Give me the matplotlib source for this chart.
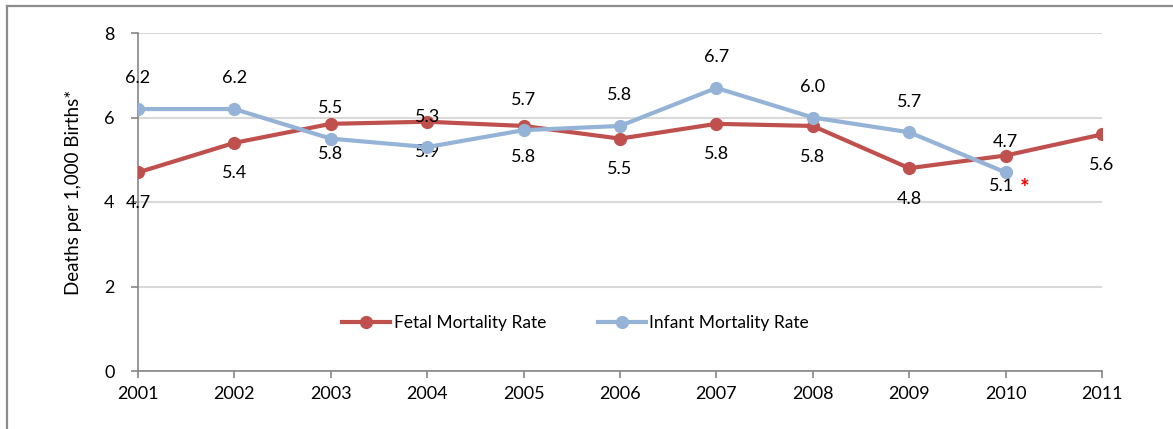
import matplotlib.pyplot as plt
from matplotlib.lines import Line2D

# data
years = [2001, 2002, 2003, 2004, 2005, 2006, 2007, 2008, 2009, 2010, 2011]
fetal = [4.7, 5.4, 5.85, 5.9, 5.8, 5.5, 5.85, 5.8, 4.8, 5.1, 5.6]
fetal_labels = ["4.7", "5.4", "5.8", "5.9", "5.8", "5.5", "5.8", "5.8", "4.8", "5.1", "5.6"]
infant_years = [2001, 2002, 2003, 2004, 2005, 2006, 2007, 2008, 2009, 2010]
infant = [6.2, 6.2, 5.5, 5.3, 5.7, 5.8, 6.7, 6.0, 5.65, 4.7]
infant_labels = ["6.2", "6.2", "5.5", "5.3", "5.7", "5.8", "6.7", "6.0", "5.7", "4.7"]

plt.rcParams["font.family"] = ["Lato", "DejaVu Sans"]
fs = 13

fig = plt.figure(figsize=(11.73, 4.29), dpi=100)
ax = fig.add_axes([138 / 1173, 1 - 371 / 429, 964 / 1173, 338 / 429])

red = "#C0504D"
blue = "#95B3D7"

ax.plot(years, fetal, color=red, lw=3, marker="o", ms=8.5, label="Fetal Mortality Rate", zorder=3)
ax.plot(infant_years, infant, color=blue, lw=3, marker="o", ms=8.5, label="Infant Mortality Rate", zorder=4)

for x, y, s in zip(infant_years, infant, infant_labels):
    ax.annotate(s, (x, y), xytext=(0, 22), textcoords="offset points",
                ha="center", va="center", fontsize=fs)
for x, y, s in zip(years, fetal, fetal_labels):
    ax.annotate(s, (x, y), xytext=(-3 if x == 2010 else 0, -22), textcoords="offset points",
                ha="center", va="center", fontsize=fs)
# asterisk on the 2010 fetal value
ax.annotate("*", (2010, fetal[9]), xytext=(10, -24), textcoords="offset points",
            ha="left", va="center", fontsize=16, color="red", fontweight="bold")

ax.set_xlim(2001, 2011)
ax.set_ylim(0, 8)
ax.set_xticks(years)
ax.set_yticks([0, 2, 4, 6, 8])
ax.yaxis.grid(True, color="#D9D9D9", lw=1.5)
ax.set_axisbelow(True)
for side in ["top", "right"]:
    ax.spines[side].set_visible(False)
for side in ["left", "bottom"]:
    ax.spines[side].set_color("#868686")
    ax.spines[side].set_linewidth(1.2)
ax.tick_params(colors="#868686", length=5, width=1.2, labelcolor="black", labelsize=fs)
ax.tick_params(axis="y", pad=12)
ax.tick_params(axis="x", pad=6)

fig.text(73 / 1173, 1 - 192 / 429, "Deaths per 1,000 Births*", rotation=90,
         ha="center", va="center", fontsize=fs + 0.5)

ax.legend(loc="center", bbox_to_anchor=(0.454, 0.142), ncol=2, frameon=False,
          handlelength=2.75, handletextpad=0.2, columnspacing=3.0, fontsize=12.5)

# outer chart frame (cropped on the right and bottom)
fig.add_artist(Line2D([7 / 1173, 7 / 1173], [0, 1 - 6 / 429], color="#8C8C8C", lw=1.6,
                      transform=fig.transFigure))
fig.add_artist(Line2D([7 / 1173, 1], [1 - 6 / 429, 1 - 6 / 429], color="#8C8C8C", lw=1.6,
                      transform=fig.transFigure))

fig.savefig("out.png", dpi=100)
